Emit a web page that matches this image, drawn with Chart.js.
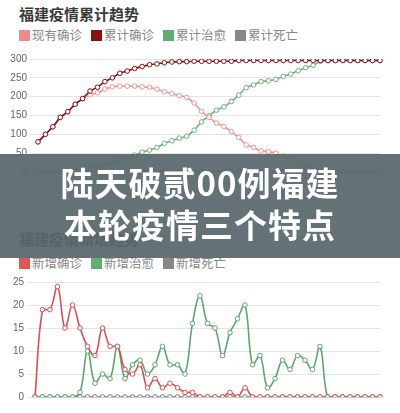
<!DOCTYPE html>
<html><head><meta charset="utf-8">
<script src="https://cdn.jsdelivr.net/npm/chart.js@4"></script>
<style>
body{margin:0;width:400px;height:413px;overflow:hidden;background:#fff;font-family:"Noto Sans CJK SC","Noto Sans",sans-serif;position:relative}
.t{position:absolute;left:19px;font-size:15px;font-weight:bold;color:#3a3a3a}
.lg{position:absolute;left:19px;font-size:12.5px;color:#888;display:flex;gap:9px}
.lg span i{display:inline-block;width:11px;height:11px;margin-right:2px;vertical-align:-1px}
#banner{position:absolute;left:0;top:154px;width:400px;height:104px;background:rgba(88,102,108,0.93);color:#fff;font-weight:bold;font-size:33px;text-align:center;line-height:42px;padding-top:7px;box-sizing:border-box;z-index:5;letter-spacing:1px}
.c{position:absolute;left:0;width:400px}
</style></head><body>
<div class="t" style="top:3px">福建疫情累计趋势</div>
<div class="lg" style="top:25px"><span><i style="background:#f08a8a"></i>现有确诊</span><span><i style="background:#8e0f12"></i>累计确诊</span><span><i style="background:#5fae72"></i>累计治愈</span><span><i style="background:#888"></i>累计死亡</span></div>
<div class="c" style="top:50px;height:140px"><canvas id="c1"></canvas></div>
<div class="t" style="top:228px">福建疫情新增趋势</div>
<div class="lg" style="top:253px"><span><i style="background:#e05555"></i>新增确诊</span><span><i style="background:#5fae72"></i>新增治愈</span><span><i style="background:#888"></i>新增死亡</span></div>
<div class="c" style="top:272px;height:141px"><canvas id="c2"></canvas></div>
<div id="banner">陆天破贰00例福建<br>本轮疫情三个特点</div>
<script>
const dates=[];for(let i=0;i<47;i++){const d=new Date(2021,8,10+i);dates.push((d.getMonth()+1)+'-'+String(d.getDate()).padStart(2,'0'));}
const cumConfirmed=[80,100,120,145,160,180,195,215,225,240,250,262,268,275,280,285,287,290,292,293,293,294,294,294,294,294,294,296,296,296,296,296,296,296,296,296,296,296,296,296,296,296,296,296,296,296,296];
const curConfirmed=[80,100,120,145,160,180,194,205,210,220,226,228,228,228,226,225,220,213,208,203,198,183,161,145,130,121,107,92,72,65,56,54,50,42,36,27,19,13,2,0,0,0,0,0,0,0,0];
const cumCured=[0,0,0,0,0,0,1,11,14,19,23,34,38,45,53,58,65,76,83,90,95,111,133,149,164,173,187,204,224,231,240,242,246,254,260,269,277,283,294,296,296,296,296,296,296,296,296];
const cumDeath=new Array(47).fill(0);
const newConfirmed=[0,19,19,24,15,20,15,11,9,15,11,11,6,5,7,2,4,2,3,2,1,1,0,0,0,0,1,0,2,0,0,0,0,0,0,0,0,0,0,0,0,0,0,0,0,0,0];
const newCured=[0,0,0,0,0,0,1,10,3,5,4,11,4,7,8,5,7,11,7,7,5,16,22,16,15,9,14,17,20,7,9,2,4,8,6,9,8,6,11,0,0,0,0,0,0,0,0];
const newDeath=new Array(47).fill(0);
function ds(data,color,t){return{data,borderColor:color,backgroundColor:'#fff',pointBackgroundColor:'#fff',pointBorderColor:color,pointRadius:2.3,borderWidth:1.6,pointBorderWidth:1,tension:t};}
function opts(max,step,w,pad){return{responsive:true,maintainAspectRatio:false,animation:false,layout:{padding:pad},
plugins:{legend:{display:false},tooltip:{enabled:false}},
scales:{x:{ticks:{display:false},grid:{display:false},border:{color:'#ccc'}},
y:{min:0,max:max,ticks:{stepSize:step,color:'#666',font:{size:10}},grid:{color:'#e4e4e4'},border:{display:false},afterFit(s){s.width=w;}}}};}
new Chart(document.getElementById('c1'),{type:'line',data:{labels:dates,datasets:[ds(cumConfirmed,'#8e0f12',0.3),ds(curConfirmed,'#f09595',0.3),ds(cumCured,'#6fb57f',0.3),ds(cumDeath,'#777',0.3)]},options:opts(300,50,38,{top:7,bottom:10,right:20})});
new Chart(document.getElementById('c2'),{type:'line',data:{labels:dates,datasets:[ds(newConfirmed,'#d95050',0.4),ds(newCured,'#5aa86c',0.4),ds(newDeath,'#777',0.4)]},options:opts(25,5,35,{top:10,bottom:8,right:20})});
</script></body></html>
